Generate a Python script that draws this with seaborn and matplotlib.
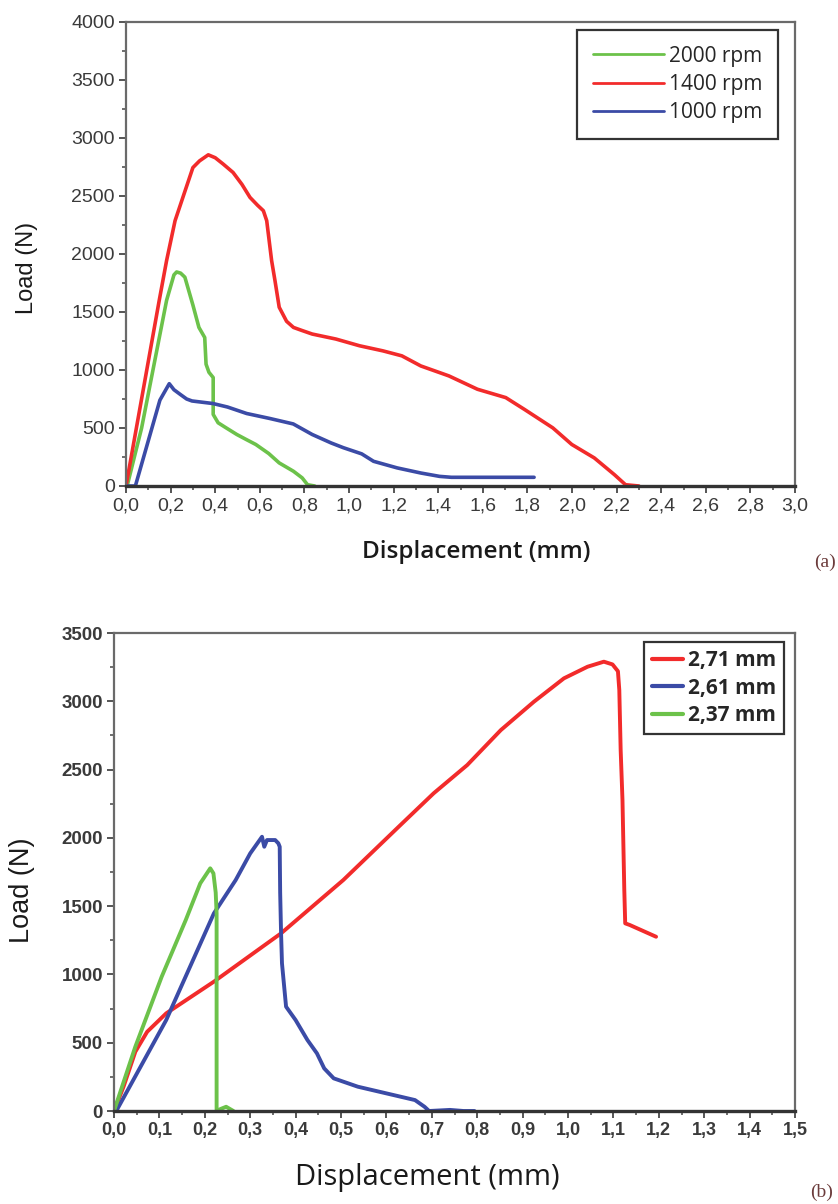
import numpy as np
import pandas as pd
import matplotlib
matplotlib.use("Agg")
import matplotlib.pyplot as plt
from matplotlib.ticker import MultipleLocator, FuncFormatter
import seaborn as sns

# ---------------- data: panel (a) ----------------
a_labels = ["2000 rpm", "1400 rpm", "1000 rpm"]
a_x_2000 = [0.005, 0.07, 0.182, 0.215, 0.227, 0.245, 0.264, 0.30, 0.327, 0.353, 0.359, 0.372,
            0.391, 0.391, 0.413, 0.45, 0.497, 0.54, 0.582, 0.64, 0.687, 0.751, 0.79, 0.814, 0.846]
a_y_2000 = [0, 500, 1600, 1820, 1845, 1835, 1800, 1560, 1367, 1280, 1050, 980,
            935, 617, 545, 500, 444, 400, 358, 280, 199, 127, 70, 11, 0]
a_x_1400 = [0.0, 0.149, 0.182, 0.22, 0.25, 0.30, 0.33, 0.369, 0.40, 0.436, 0.48, 0.52, 0.556,
            0.59, 0.616, 0.631, 0.653, 0.668, 0.687, 0.72, 0.751, 0.79, 0.835, 0.941, 1.047,
            1.152, 1.237, 1.322, 1.448, 1.576, 1.703, 1.787, 1.914, 1.999, 2.10, 2.19, 2.24, 2.30]
a_y_1400 = [0, 1600, 1943, 2287, 2459, 2745, 2803, 2855, 2830, 2775, 2703, 2600, 2488,
            2420, 2373, 2287, 1943, 1771, 1541, 1420, 1367, 1340, 1310, 1267, 1209,
            1165, 1122, 1035, 949, 834, 762, 660, 501, 358, 242, 98, 11, 0]
a_x_1000 = [0.0, 0.042, 0.152, 0.194, 0.215, 0.243, 0.272, 0.296, 0.39, 0.455, 0.541, 0.645,
            0.75, 0.835, 0.92, 0.975, 1.057, 1.11, 1.216, 1.322, 1.406, 1.459, 1.83]
a_y_1000 = [0, 0, 740, 882, 830, 790, 750, 733, 711, 681, 625, 582,
            535, 444, 371, 330, 277, 213, 156, 112, 83, 75, 75]

# ---------------- data: panel (b) ----------------
b_labels = ["2,71 mm", "2,61 mm", "2,37 mm"]
b_x_271 = [0.0, 0.021, 0.047, 0.073, 0.115, 0.22, 0.368, 0.505, 0.631, 0.704, 0.778, 0.852,
           0.925, 0.991, 1.043, 1.079, 1.098, 1.110, 1.113, 1.116, 1.120, 1.124, 1.126, 1.136, 1.194]
b_y_271 = [0, 178, 434, 580, 715, 947, 1301, 1691, 2094, 2326, 2533, 2789,
           2997, 3168, 3253, 3290, 3270, 3220, 3082, 2643, 2277, 1618, 1374, 1362, 1276]
b_x_261 = [0.005, 0.115, 0.22, 0.268, 0.30, 0.326, 0.331, 0.337, 0.355, 0.362, 0.365, 0.366,
           0.368, 0.370, 0.379, 0.40, 0.426, 0.447, 0.463, 0.484, 0.537, 0.60, 0.663, 0.684,
           0.694, 0.74, 0.77, 0.794]
b_y_261 = [0, 666, 1447, 1691, 1886, 2008, 1935, 1984, 1984, 1960, 1935, 1600,
           1300, 1081, 764, 666, 520, 422, 312, 239, 178, 129, 80, 31,
           0, 8, 0, 0]
b_x_237 = [0.0, 0.047, 0.105, 0.158, 0.19, 0.212, 0.219, 0.224, 0.226, 0.226, 0.235, 0.247, 0.263]
b_y_237 = [0, 471, 983, 1398, 1667, 1777, 1740, 1600, 1447, 0, 15, 31, 0]

a_ticks_x = np.round(np.arange(0, 3.01, 0.2), 1)
a_ticks_y = list(range(0, 4001, 500))
b_ticks_x = np.round(np.arange(0, 1.51, 0.1), 1)
b_ticks_y = list(range(0, 3501, 500))

RED, GREEN, BLUE = "#f22b2b", "#6cc24a", "#3b4ba6"


def long_df(labels, xs, ys):
    frames = []
    for lab, x, y in zip(labels, xs, ys):
        frames.append(pd.DataFrame({"x": x, "y": y, "series": lab}))
    return pd.concat(frames, ignore_index=True)


df_a = long_df(a_labels, [a_x_2000, a_x_1400, a_x_1000], [a_y_2000, a_y_1400, a_y_1000])
df_b = long_df(b_labels, [b_x_271, b_x_261, b_x_237], [b_y_271, b_y_261, b_y_237])

sns.set_style("white")
plt.rcParams["font.family"] = ["Liberation Sans", "DejaVu Sans"]

fig = plt.figure(figsize=(8.38, 12.04), dpi=100)
W, H = 838, 1204


def add_axes_px(left, top, right, bottom):
    return fig.add_axes([left / W, 1 - bottom / H, (right - left) / W, (bottom - top) / H])


ax_a = add_axes_px(126, 22, 795, 486)
ax_b = add_axes_px(114, 633, 795, 1111)

comma = FuncFormatter(lambda v, p: f"{v:.1f}".replace(".", ","))

# ----- panel (a)
sns.lineplot(data=df_a, x="x", y="y", hue="series", hue_order=a_labels,
             palette={"2000 rpm": GREEN, "1400 rpm": RED, "1000 rpm": BLUE},
             estimator=None, sort=False, units="series", lw=2.6, ax=ax_a)
ax_a.set_xlim(0, 3.0)
ax_a.set_ylim(0, 4000)
ax_a.set_xticks(a_ticks_x)
ax_a.set_yticks(a_ticks_y)
ax_a.xaxis.set_minor_locator(MultipleLocator(0.1))
ax_a.yaxis.set_minor_locator(MultipleLocator(250))
ax_a.xaxis.set_major_formatter(comma)

# ----- panel (b)
sns.lineplot(data=df_b, x="x", y="y", hue="series", hue_order=b_labels,
             palette={"2,71 mm": RED, "2,61 mm": BLUE, "2,37 mm": GREEN},
             estimator=None, sort=False, units="series", lw=2.8, ax=ax_b)
ax_b.set_xlim(0, 1.5)
ax_b.set_ylim(0, 3500)
ax_b.set_xticks(b_ticks_x)
ax_b.set_yticks(b_ticks_y)
ax_b.xaxis.set_minor_locator(MultipleLocator(0.05))
ax_b.yaxis.set_minor_locator(MultipleLocator(250))
ax_b.xaxis.set_major_formatter(comma)

for ax in (ax_a, ax_b):
    for s in ("top", "right", "left"):
        ax.spines[s].set_color("#6a6a6a")
        ax.spines[s].set_linewidth(1.6)
    ax.spines["bottom"].set_color("#333333")
    ax.spines["bottom"].set_linewidth(2.4)
    ax.tick_params(which="major", direction="out", length=5, width=1.4, color="#555555",
                   top=False, right=False, bottom=True, left=True, pad=3)
    ax.tick_params(which="minor", direction="out", length=3, width=1.2, color="#555555",
                   top=False, right=False, bottom=True, left=True)
    ax.set_xlabel("")
    ax.set_ylabel("")

# tick label fonts
for lab in ax_a.get_yticklabels():
    lab.set_fontsize(14); lab.set_color("#3a3a3a")
for lab in ax_a.get_xticklabels():
    lab.set_fontsize(14); lab.set_color("#3a3a3a")
    lab.set_family(["Liberation Sans Narrow", "Liberation Sans", "DejaVu Sans"])
    lab.set_stretch("condensed")
for lab in ax_b.get_yticklabels():
    lab.set_fontsize(13.5); lab.set_color("#3a3a3a"); lab.set_fontweight("bold")
for lab in ax_b.get_xticklabels():
    lab.set_fontsize(13); lab.set_color("#3a3a3a"); lab.set_fontweight("bold")

# axis labels placed at measured positions
fig.text(476 / W, 1 - 552 / H, "Displacement (mm)", ha="center", va="center",
         fontsize=17.5, fontweight="semibold", family=["Open Sans", "DejaVu Sans"], color="#1a1a1a")
fig.text(27 / W, 1 - 268 / H, "Load (N)", ha="center", va="center", rotation=90,
         fontsize=17, family=["Liberation Sans", "DejaVu Sans"], color="#1a1a1a")
fig.text(427 / W, 1 - 1177 / H, "Displacement (mm)", ha="center", va="center",
         fontsize=21, family=["Open Sans", "DejaVu Sans"], color="#1a1a1a")
fig.text(22 / W, 1 - 890 / H, "Load (N)", ha="center", va="center", rotation=90,
         fontsize=19.5, family=["Liberation Sans", "DejaVu Sans"], color="#1a1a1a")

# panel tags
fig.text(825 / W, 1 - 562 / H, "(a)", ha="center", va="center", fontsize=14,
         family=["Liberation Serif", "DejaVu Serif"], color="#6b3b3b")
fig.text(822 / W, 1 - 1192 / H, "(b)", ha="center", va="center", fontsize=14,
         family=["Liberation Serif", "DejaVu Serif"], color="#6b3b3b")

# legends
leg_a = ax_a.legend(loc="upper right", bbox_to_anchor=((778 - 126) / 669, (486 - 30) / 464),
                    borderaxespad=0, frameon=True, fancybox=False, framealpha=1,
                    prop={"family": ["Open Sans", "DejaVu Sans"], "size": 15},
                    handlelength=3.4, handletextpad=0.25, labelspacing=0.35,
                    borderpad=0.75)
leg_a.get_frame().set_edgecolor("#333333")
leg_a.get_frame().set_linewidth(1.6)
for h in leg_a.get_lines():
    h.set_linewidth(2.0)

leg_b = ax_b.legend(loc="upper right", bbox_to_anchor=((784 - 114) / 681, (1111 - 642) / 478),
                    borderaxespad=0, frameon=True, fancybox=False, framealpha=1,
                    prop={"family": ["Open Sans", "DejaVu Sans"], "size": 15, "weight": "bold"},
                    handlelength=1.5, handletextpad=0.2, labelspacing=0.3, borderpad=0.4)
leg_b.get_frame().set_edgecolor("#333333")
leg_b.get_frame().set_linewidth(1.6)
for h in leg_b.get_lines():
    h.set_linewidth(3.0)

fig.savefig("out.png", dpi=100)
